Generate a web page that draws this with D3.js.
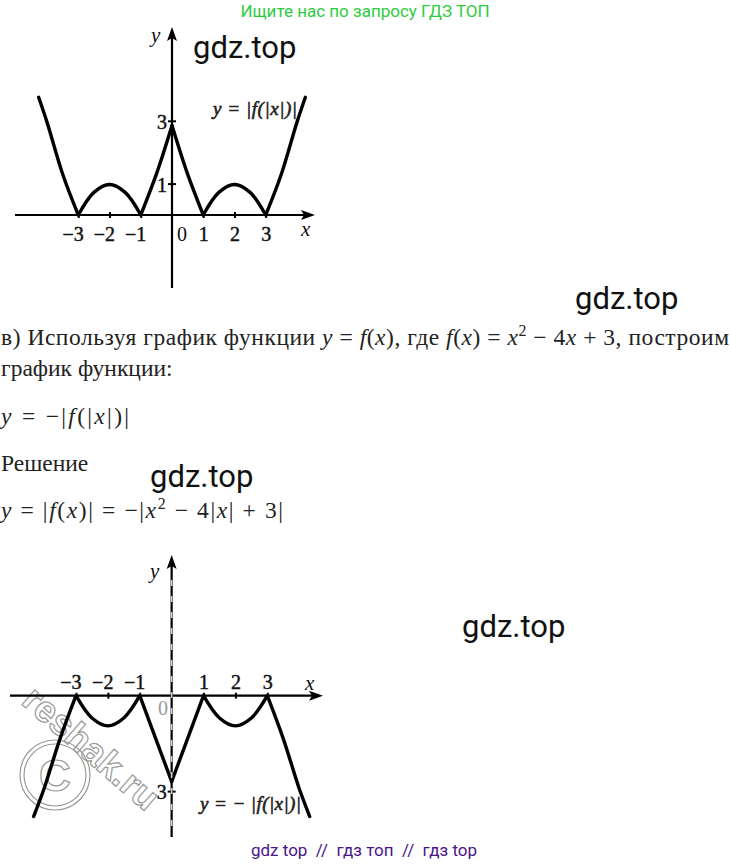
<!DOCTYPE html>
<html><head><meta charset="utf-8">
<script src="https://cdn.jsdelivr.net/npm/d3@7"></script>
<style>body{margin:0;background:#fff}svg{display:block}</style>
</head><body>
<script>
// ---------- data ----------
const xTickValues = [-3, -2, -1, 1, 2, 3];
const xTickLabels = ["−3", "−2", "−1", "1", "2", "3"];
const topYTicks = [1, 3];
const bottomYTicks = [-3];
const cornerX = [-3, -1, 0, 1, 3];   // kinks where the curve is split into branches

// y = |f(|x|)|
const topCurveX = [-4.27, -4, -3.5, -3, -2.5, -2, -1.5, -1, -0.5, 0, 0.5, 1, 1.5, 2, 2.5, 3, 3.5, 4, 4.27];
const topCurveY = [3.75, 2.95, 1.3, 0, 0.72, 0.97, 0.72, 0, 1.3, 2.85, 1.3, 0, 0.72, 0.97, 0.72, 0, 1.3, 2.95, 3.75];

// y = -|f(|x|)|
const bottomCurveX = [-4.33, -4, -3.5, -3, -2.5, -2, -1.5, -1, -0.5, 0, 0.5, 1, 1.5, 2, 2.5, 3, 3.5, 4, 4.33];
const bottomCurveY = [-3.8, -2.92, -1.35, 0, -0.7, -0.95, -0.7, 0, -1.35, -2.7, -1.35, 0, -0.7, -0.95, -0.7, 0, -1.35, -2.92, -3.8];

// ---------- drawing ----------
const W = 731, H = 866;
const svg = d3.select("body").append("svg").attr("width", W).attr("height", H);
const serif = "'Liberation Serif', 'Times New Roman', serif";
const roboto = "Roboto, 'Noto Sans', sans-serif";

function branches(xs, ys) {
  const out = []; let cur = [];
  xs.forEach((x, i) => {
    cur.push([x, ys[i]]);
    if (cornerX.includes(x) && cur.length > 1) { out.push(cur); cur = [[x, ys[i]]]; }
  });
  if (cur.length > 1) out.push(cur);
  return out;
}

function arrow(g, tip, dir) {
  const [tx, ty] = tip, L = 14, w = 5;
  let pts;
  if (dir === "right") pts = [[tx, ty], [tx - L, ty - w], [tx - L + 3, ty], [tx - L, ty + w]];
  else pts = [[tx, ty], [tx - w, ty + L], [tx, ty + L - 3], [tx + w, ty + L]];
  g.append("path").attr("d", "M" + pts.map(p => p.join(",")).join("L") + "Z").attr("fill", "#000");
}

function drawChart(cfg) {
  const g = svg.append("g");
  const x = d3.scaleLinear().domain([-3, 3]).range(cfg.xr);
  const y = d3.scaleLinear().domain([0, cfg.yUnit]).range(cfg.yr);
  const x0 = x(0), y0 = y(0);

  g.append("line").attr("x1", cfg.xAxisFrom).attr("x2", cfg.xAxisTo - 4).attr("y1", y0).attr("y2", y0)
    .attr("stroke", "#000").attr("stroke-width", 2.2);
  g.append("line").attr("x1", x0).attr("x2", x0).attr("y1", cfg.yAxisBottom).attr("y2", cfg.yAxisTop + 4)
    .attr("stroke", "#000").attr("stroke-width", 2.2);
  arrow(g, [cfg.xAxisTo, y0], "right");
  arrow(g, [x0, cfg.yAxisTop], "up");

  const ax = (cfg.labelsAbove ? d3.axisTop(x) : d3.axisBottom(x))
    .tickValues(xTickValues).tickFormat((d, i) => xTickLabels[i]).tickSize(0).tickPadding(0);
  const axg = g.append("g").attr("transform", `translate(0,${y0})`).call(ax);
  axg.select(".domain").remove();
  axg.selectAll("text")
    .attr("font-family", serif).attr("font-size", 20).attr("fill", "#111")
    .attr("stroke", "#111").attr("stroke-width", 0.45)
    .attr("text-anchor", d => d < 0 ? "end" : "middle")
    .attr("x", d => d < 0 ? 5 : 0)
    .attr("dy", null)
    .attr("y", cfg.labelsAbove ? -7 : 26);
  axg.selectAll(".tick").append("line").attr("y1", -3).attr("y2", 3).attr("stroke", "#000").attr("stroke-width", 2);

  const ay = d3.axisLeft(y).tickValues(cfg.yTicks).tickFormat(d => String(Math.abs(d))).tickSize(0).tickPadding(0);
  const ayg = g.append("g").attr("transform", `translate(${x0},0)`).call(ay);
  ayg.select(".domain").remove();
  ayg.selectAll("text").attr("font-family", serif).attr("font-size", 20).attr("fill", "#111")
    .attr("stroke", "#111").attr("stroke-width", 0.45)
    .attr("x", -5).attr("dy", null).attr("y", cfg.yLabelDy);
  ayg.selectAll(".tick").append("line").attr("x1", -4).attr("x2", 4).attr("stroke", "#000").attr("stroke-width", 2);

  g.append("text").attr("x", cfg.zero[0]).attr("y", cfg.zero[1]).attr("font-family", serif)
    .attr("font-size", 20).attr("fill", cfg.zeroColor).attr("text-anchor", "middle").text("0");

  g.append("text").attr("x", cfg.yName[0]).attr("y", cfg.yName[1]).attr("font-family", serif)
    .attr("font-style", "italic").attr("font-size", 21).attr("fill", "#111").text("y");
  g.append("text").attr("x", cfg.xName[0]).attr("y", cfg.xName[1]).attr("font-family", serif)
    .attr("font-style", "italic").attr("font-size", 21).attr("fill", "#111").text("x");

  const line = d3.line().x(d => x(d[0])).y(d => y(d[1])).curve(d3.curveCatmullRom.alpha(0.5));
  branches(cfg.cx, cfg.cy).forEach(b => {
    g.append("path").attr("d", line(b)).attr("fill", "none").attr("stroke", "#000")
      .attr("stroke-width", 3.4).attr("stroke-linecap", "round").attr("stroke-linejoin", "round");
  });

  g.append("text").attr("x", cfg.formula[0]).attr("y", cfg.formula[1]).attr("font-family", serif)
    .attr("font-style", "italic").attr("font-size", 19).attr("fill", "#222")
    .attr("stroke", "#222").attr("stroke-width", 0.6)
    .attr("textLength", cfg.formulaLen).attr("lengthAdjust", "spacing").text(cfg.formulaText);
  return { g, x, y };
}

drawChart({
  xr: [78.3, 265.7], yUnit: 1, yr: [215, 183.6],
  xAxisFrom: 15, xAxisTo: 315, yAxisBottom: 288, yAxisTop: 27,
  labelsAbove: false, yTicks: topYTicks, yLabelDy: 8,
  zero: [182, 241], zeroColor: "#111",
  yName: [151, 42], xName: [301, 236],
  cx: topCurveX, cy: topCurveY,
  formula: [213, 115], formulaText: "y = |f(|x|)|", formulaLen: 84
});

// watermark under the lower chart
const wm = svg.append("g").attr("fill", "#fff").attr("stroke", "#9a9a9a").attr("stroke-width", 1.2);
wm.append("text").attr("transform", "translate(20,703) rotate(41)")
  .attr("font-family", "'Liberation Sans', Arial, sans-serif").attr("font-weight", "bold")
  .attr("font-size", 37).text("reshak.ru");
wm.append("circle").attr("cx", 55).attr("cy", 775).attr("r", 35).attr("fill", "none");
wm.append("circle").attr("cx", 55).attr("cy", 775).attr("r", 31).attr("fill", "none");
wm.append("text").attr("x", 55).attr("y", 791).attr("text-anchor", "middle")
  .attr("font-family", "'Liberation Sans', Arial, sans-serif").attr("font-weight", "bold")
  .attr("font-size", 44).text("C");

const bottom = drawChart({
  xr: [76, 267.3], yUnit: -1, yr: [695.7, 727.5],
  xAxisFrom: 10, xAxisTo: 323, yAxisBottom: 837, yAxisTop: 555,
  labelsAbove: true, yTicks: bottomYTicks, yLabelDy: 7,
  zero: [163, 715], zeroColor: "#999",
  yName: [150, 578], xName: [305, 690],
  cx: bottomCurveX, cy: bottomCurveY,
  formula: [200, 810], formulaText: "y = − |f(|x|)|", formulaLen: 101
});
bottom.g.append("line").attr("x1", bottom.x(0)).attr("x2", bottom.x(0)).attr("y1", 580).attr("y2", 835)
  .attr("stroke", "#cfcfcf").attr("stroke-width", 1.6).attr("stroke-dasharray", "6,10");

// ---------- texts ----------
svg.append("text").attr("x", 365).attr("y", 17).attr("text-anchor", "middle")
  .attr("font-family", roboto).attr("font-size", 17).attr("fill", "#2dcc3f").text("Ищите нас по запросу ГДЗ ТОП");

[[193, 58], [575, 309], [150, 487], [462, 637]].forEach(p => {
  svg.append("text").attr("x", p[0]).attr("y", p[1]).attr("font-family", roboto)
    .attr("font-size", 31).attr("fill", "#111").text("gdz.top");
});

function richLine(xPos, yPos, parts, size, len) {
  const t = svg.append("text").attr("x", xPos).attr("y", yPos).attr("font-family", serif)
    .attr("font-size", size).attr("fill", "#222");
  let prevSup = false;
  parts.forEach(([s, k]) => {
    const ts = t.append("tspan").text(s);
    if (k === "i") ts.attr("font-style", "italic");
    if (k === "sup") { ts.attr("font-size", size * 0.68).attr("dy", -9); prevSup = true; }
    else if (prevSup) { ts.attr("dy", 9); prevSup = false; }
  });
  if (len) t.attr("textLength", len).attr("lengthAdjust", "spacing");
  return t;
}

richLine(1, 345, [["в) Используя график функции ", "n"], ["y", "i"], [" = ", "n"], ["f", "i"], ["(", "n"], ["x", "i"],
  ["), где ", "n"], ["f", "i"], ["(", "n"], ["x", "i"], [") = ", "n"], ["x", "i"], ["2", "sup"], [" − 4", "n"],
  ["x", "i"], [" + 3, построим", "n"]], 23.5, 728);
richLine(1, 376, [["график функции:", "n"]], 23.5);
richLine(1, 424, [["y", "i"], [" = −|", "n"], ["f", "i"], ["(|", "n"], ["x", "i"], ["|)|", "n"]], 23.5, 128);
richLine(1, 471, [["Решение", "n"]], 23.5);
richLine(1, 518, [["y", "i"], [" = |", "n"], ["f", "i"], ["(", "n"], ["x", "i"], [")| = −|", "n"], ["x", "i"],
  ["2", "sup"], [" − 4|", "n"], ["x", "i"], ["| + 3|", "n"]], 23.5, 282);

svg.append("text").attr("x", 364).attr("y", 856).attr("text-anchor", "middle")
  .attr("font-family", roboto).attr("font-size", 17).attr("fill", "#4a148c")
  .attr("xml:space", "preserve").style("white-space", "pre").text("gdz top  //  гдз топ  //  гдз top");
</script>
</body></html>
